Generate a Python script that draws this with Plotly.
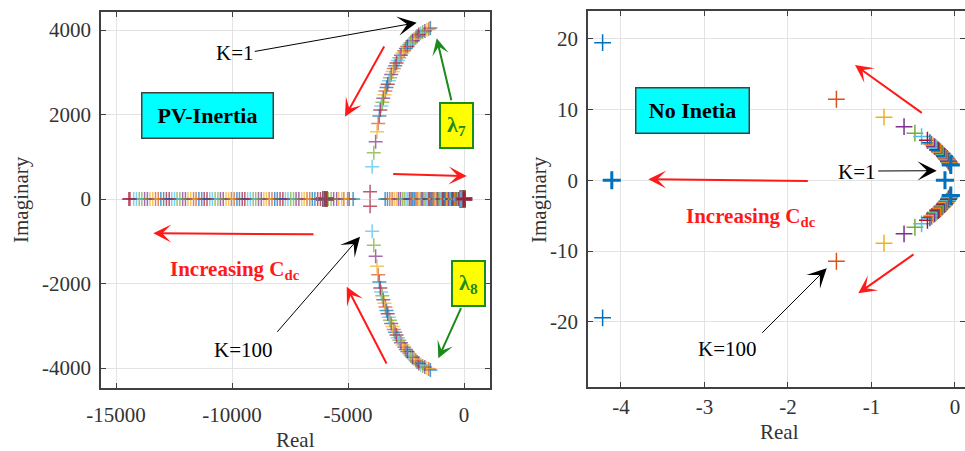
import plotly.graph_objects as go

COLORS = ['#0072BD', '#D95319', '#EDB120', '#7E2F8E', '#77AC30', '#4DBEEE', '#A2142F']

# ---------------- Left panel: PV-Inertia (one entry per K series) ----------------
arc_im = [4045, 4025, 4003, 3978, 3951, 3922, 3891, 3857, 3822, 3784, 3744, 3701, 3657, 3610,
          3561, 3509, 3456, 3400, 3342, 3281, 3219, 3154, 3087, 3018, 2946, 2872, 2796, 2718,
          2637, 2554, 2469, 2382, 2292, 2200, 2106, 1964, 1790, 1593, 1357, 1096, 765, 173]
arc_re = [-1450, -1520, -1600, -1690, -1780, -1870, -1950, -2020, -2080, -2150, -2220, -2300,
          -2370, -2440, -2510, -2580, -2650, -2720, -2790, -2850, -2910, -2970, -3030, -3080,
          -3140, -3190, -3240, -3290, -3340, -3390, -3430, -3480, -3520, -3570, -3610, -3650,
          -3700, -3750, -3810, -3890, -3960, -4050]
real_left = [-4780, -5020, -5270, -5490, -5730, -5960, -6190, -6430, -6650, -6890, -7120, -7350,
             -7590, -7810, -8050, -8280, -8520, -8740, -8980, -9210, -9450, -9680, -9910, -10150,
             -10380, -10610, -10850, -11080, -11310, -11550, -11780, -12010, -12250, -12480,
             -12710, -12950, -13180, -13420, -13650, -13890, -14120, -14450]
real_left2 = [-4950, -5180, -5400, -5620, -5850, -6080, -6310, -6540, -6770, -7000, -7240, -7470,
              -7700, -7930, -8160, -8400, -8630, -8860, -9090, -9330, -9560, -9790, -10030,
              -10260, -10500, -10730, -10960, -11200, -11430, -11660, -11900, -12130, -12370,
              -12600, -12830, -13070, -13300, -13540, -13770, -14000, -14240, -14400]
real_right = [-3400, -3200, -3010, -2830, -2660, -2500, -2350, -2210, -2080, -1960, -1840, -1730,
              -1620, -1520, -1420, -1330, -1240, -1160, -1080, -1000, -930, -860, -800, -740,
              -680, -620, -570, -520, -470, -420, -380, -340, -300, -260, -220, -190, -160,
              -130, -100, -70, -40, -10]
real_right2 = [-3300, -3100, -2920, -2745, -2580, -2425, -2280, -2145, -2020, -1900, -1785, -1675,
               -1570, -1470, -1375, -1285, -1200, -1120, -1040, -965, -895, -830, -770, -710,
               -650, -595, -545, -495, -445, -400, -360, -320, -280, -240, -205, -175, -145,
               -115, -85, -55, -25, -5]
real_mid = [-5990, -5960, -6020, -5970, -6000, -5950, -6030, -5980, -6010, -5960, -6040, -5990,
            -5970, -6020, -5950, -6000, -6030, -5980, -5960, -6010, -5990, -6040, -5970, -6000,
            -5950, -6020, -5980, -6010, -5960, -6030, -5990, -5970, -6000, -6020, -5950, -5980,
            -6010, -5960, -6040, -5990, -6000, -5970]
real_zero = [-60, -20, -110, -40, -80, -10, -130, -50, -90, -30, -70, -100, -20, -60, -120, -40,
             -80, -10, -50, -90, -30, -70, -110, -20, -60, -100, -40, -80, -15, -130, -50, -90,
             -30, -70, -10, -60, -100, -40, -80, -25, -120, -5]

# ---------------- Right panel: No Inertia (outer -> inner) ----------------
ni_re = [-1.42, -0.85, -0.61, -0.48, -0.40, -0.33, -0.30, -0.28, -0.26, -0.244, -0.229, -0.214,
         -0.20, -0.186, -0.173, -0.163, -0.153, -0.143, -0.134, -0.126, -0.118, -0.110, -0.102,
         -0.096, -0.090, -0.083, -0.078, -0.072, -0.067, -0.062, -0.058, -0.054]
ni_im = [11.44, 8.90, 7.57, 6.64, 6.16, 5.65, 5.30, 5.10, 4.90, 4.75, 4.60, 4.45, 4.30, 4.15,
         4.00, 3.88, 3.76, 3.64, 3.52, 3.41, 3.30, 3.19, 3.08, 2.98, 2.88, 2.78, 2.68, 2.58,
         2.49, 2.40, 2.31, 2.23]
ni_k1_re = [-0.05, -0.05, -0.12, -4.11]
ni_k1_im = [2.16, -2.16, 0.0, 0.0]
ni_far_re = [-4.22, -4.22]
ni_far_im = [19.43, -19.43]

W, H = 965, 451
FONT = 'Liberation Serif'

fig = go.Figure()

for i in range(len(arc_im)):
    c = COLORS[i % 7]
    xs = [arc_re[i], arc_re[i], real_left[i], real_left2[i], real_right[i], real_right2[i],
          real_mid[i], real_zero[i]]
    ys = [arc_im[i], -arc_im[i], 0, 0, 0, 0, 0, 0]
    sizes = [10, 10, 10, 10, 10, 10, 11, 12]
    widths = [1.5, 1.5, 1.5, 1.5, 1.5, 1.5, 3, 3.5]
    fig.add_trace(go.Scatter(x=xs, y=ys, mode='markers',
                             marker=dict(symbol='cross-thin', size=sizes, color=c,
                                         line=dict(color=c, width=widths)),
                             xaxis='x', yaxis='y', showlegend=False, hoverinfo='skip'))

def mk(color, size, width):
    return dict(symbol='cross-thin', size=size, color=color, line=dict(color=color, width=width))

fig.add_trace(go.Scatter(x=ni_far_re, y=ni_far_im, mode='markers', marker=mk(COLORS[0], 12, 1.5),
                         xaxis='x2', yaxis='y2', showlegend=False, hoverinfo='skip'))
for j in range(len(ni_re)):
    c = COLORS[(j + 1) % 7]
    fig.add_trace(go.Scatter(x=[ni_re[j], ni_re[j]], y=[ni_im[j], -ni_im[j]], mode='markers',
                             marker=mk(c, 12, 1.5), xaxis='x2', yaxis='y2',
                             showlegend=False, hoverinfo='skip'))
fig.add_trace(go.Scatter(x=ni_k1_re, y=ni_k1_im, mode='markers', marker=mk(COLORS[0], 13, 3),
                         xaxis='x2', yaxis='y2', showlegend=False, hoverinfo='skip'))

ax_common = dict(showgrid=True, gridcolor='#e3e3e3', gridwidth=1, zeroline=False,
                 showline=True, linecolor='#404040', linewidth=1.5, mirror='ticks',
                 ticks='inside', ticklen=5, tickwidth=1.2, tickcolor='#404040', automargin=False,
                 tickfont=dict(family=FONT, size=21, color='#333333'))

fig.update_layout(
    width=W, height=H, margin=dict(l=0, r=0, t=0, b=0),
    paper_bgcolor='white', plot_bgcolor='white',
    xaxis=dict(domain=[101 / W, 490 / W], range=[-15650, 1120], anchor='y',
               tickvals=[-15000, -10000, -5000, 0], ticktext=['-15000', '-10000', '-5000', '0'],
               ticklabelstandoff=7, **ax_common),
    yaxis=dict(domain=[1 - 388 / H, 1 - 12 / H], range=[-4473, 4426], anchor='x',
               tickvals=[-4000, -2000, 0, 2000, 4000],
               ticktext=['-4000', '-2000', '0', '2000', '4000'], ticklabelstandoff=4, **ax_common),
    xaxis2=dict(domain=[588 / W, 1.0], range=[-4.395, 0.12], anchor='y2',
                tickvals=[-4, -3, -2, -1, 0], ticktext=['-4', '-3', '-2', '-1', '0'],
                ticklabelstandoff=0, **ax_common),
    yaxis2=dict(domain=[1 - 387 / H, 1 - 11 / H], range=[-29.2, 23.9], anchor='x2',
                tickvals=[-20, -10, 0, 10, 20], ticktext=['-20', '-10', '0', '10', '20'],
                ticklabelstandoff=4, **ax_common),
)

ann = []

def px(x, y):
    return x / W, 1 - y / H

def arrow(tail, head, color, width, size):
    hx, hy = px(*head)
    ann.append(dict(x=hx, y=hy, xref='paper', yref='paper', text='', showarrow=True,
                    ax=tail[0] - head[0], ay=tail[1] - head[1], axref='pixel', ayref='pixel',
                    arrowhead=3, arrowsize=size, arrowwidth=width, arrowcolor=color,
                    standoff=0, startstandoff=0))

def text(x, y, s, size=21, color='black', bold=False, angle=0, **kw):
    X, Y = px(x, y)
    if bold:
        s = '<b>' + s + '</b>'
    d = dict(x=X, y=Y, xref='paper', yref='paper', text=s, showarrow=False,
             xanchor='center', yanchor='middle', textangle=angle,
             font=dict(family=FONT, size=size, color=color))
    d.update(kw)
    ann.append(d)

RED = '#ff1a1a'
GREEN = '#1a8a1a'

# left panel arrows
arrow((385, 45), (345, 116.7), RED, 2, 1.5)
arrow((391.7, 174), (466.7, 176), RED, 2, 1.5)
arrow((315, 234.3), (153.3, 233.3), RED, 2, 1.5)
arrow((387.3, 365), (346.7, 286.7), RED, 2, 1.5)
arrow((451.7, 101.7), (436.7, 38.3), GREEN, 2, 1.4)
arrow((461.7, 306.7), (438.3, 358.3), GREEN, 2, 1.4)
arrow((253.3, 51.7), (416.7, 22.7), 'black', 1, 3.2)
arrow((276, 333.3), (360, 236.7), 'black', 1, 3.2)

# right panel arrows
arrow((923.3, 114), (855, 65), RED, 2, 1.5)
arrow((915, 253.3), (858.3, 293.3), RED, 2, 1.5)
arrow((809.3, 181), (648.3, 179.3), RED, 2, 1.5)
arrow((876.7, 171), (936.7, 170.7), 'black', 1, 3.2)
arrow((760.7, 334.3), (826.7, 268.3), 'black', 1, 3.2)

# texts
text(235, 53.3, 'K=1')
text(243.3, 350, 'K=100')
text(856.7, 172.3, 'K=1')
text(727.5, 349.3, 'K=100')
text(235, 270, 'Increasing C<sub>dc</sub>', color=RED, bold=True)
text(750.5, 217, 'Increasing C<sub>dc</sub>', color=RED, bold=True)

text(207.5, 115, 'PV-Inertia', size=22, bold=True, bgcolor='#00ffff', bordercolor='#404040',
     borderwidth=1.5, borderpad=2, width=126, height=40)
text(692.2, 110, 'No Inetia', size=22, bold=True, bgcolor='#00ffff', bordercolor='#404040',
     borderwidth=1.5, borderpad=2, width=108, height=40)
text(456, 126, 'λ<sub>7</sub>', size=22, color=GREEN, bold=True, bgcolor='#ffff00',
     bordercolor=GREEN, borderwidth=2, borderpad=1, width=29, height=41)
text(468, 283, 'λ<sub>8</sub>', size=22, color=GREEN, bold=True, bgcolor='#ffff00',
     bordercolor=GREEN, borderwidth=2, borderpad=1, width=29, height=41)

# axis titles
text(295, 440, 'Real', size=21, color='#333333')
text(779, 432, 'Real', size=21, color='#333333')
text(21, 200, 'Imaginary', size=21, color='#333333', angle=-90)
text(539, 200, 'Imaginary', size=21, color='#333333', angle=-90)

fig.update_layout(annotations=ann)
fig.write_html('out.html', config={'displayModeBar': False},
               post_script="document.body.style.margin='0';")
